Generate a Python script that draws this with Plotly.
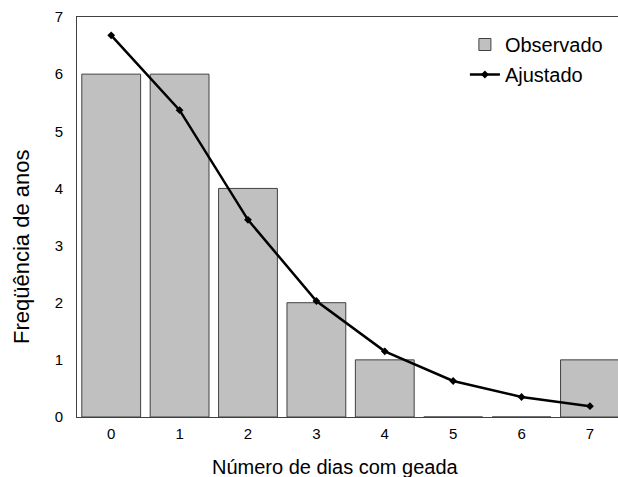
import plotly.graph_objects as go

categories = [0, 1, 2, 3, 4, 5, 6, 7]
observado = [6, 6, 4, 2, 1, 0, 0, 1]
ajustado = [6.68, 5.37, 3.45, 2.03, 1.15, 0.63, 0.35, 0.19]
x_title = "Número de dias com geada"
y_title = "Freqüência de anos"

font_family = "Liberation Sans, Arial, sans-serif"
axis_color = "#404040"

fig = go.Figure()
fig.add_trace(go.Bar(
    x=categories, y=observado, name="Observado", legendgroup="a",
    marker=dict(color="#c0c0c0", line=dict(color=axis_color, width=1)),
))
fig.add_trace(go.Scatter(
    x=categories, y=ajustado, name="Ajustado", mode="lines+markers",
    legendgroup="b",
    line=dict(color="black", width=2.5),
    marker=dict(symbol="diamond", size=6, color="black"),
))

fig.update_layout(
    width=618, height=477,
    margin=dict(l=77, r=0, t=17, b=60, autoexpand=False),
    paper_bgcolor="white", plot_bgcolor="white",
    bargap=0.14,
    font=dict(family=font_family, color="black"),
    showlegend=True,
    legend=dict(
        x=0.717, y=0.98, xanchor="left", yanchor="top",
        font=dict(size=20, family=font_family),
        bgcolor="rgba(0,0,0,0)", tracegroupgap=1, itemwidth=30,
    ),
    xaxis=dict(
        range=[-0.5, 7.41], tickmode="array", tickvals=categories,
        ticktext=[str(c) for c in categories],
        showline=True, linecolor=axis_color, linewidth=1, mirror=True,
        showgrid=False, zeroline=False, ticks="", ticklabelstandoff=3,
        tickfont=dict(size=15), automargin=False,
    ),
    yaxis=dict(
        range=[0, 7], dtick=1, showline=True, linecolor=axis_color,
        linewidth=1, showgrid=False, zeroline=False, ticks="",
        ticklabelstandoff=10, tickfont=dict(size=15), automargin=False,
    ),
    annotations=[
        dict(text=x_title, xref="paper", yref="paper", x=0.477, y=-0.125,
             xanchor="center", yanchor="middle", showarrow=False,
             font=dict(size=20, family=font_family)),
        dict(text=y_title, xref="paper", yref="paper", x=-0.1017, y=0.425,
             xanchor="center", yanchor="middle", showarrow=False,
             textangle=-90, font=dict(size=22, family=font_family)),
    ],
)

fig.write_html("out.html", config={"displayModeBar": False},
               post_script="document.body.style.margin='0';")
